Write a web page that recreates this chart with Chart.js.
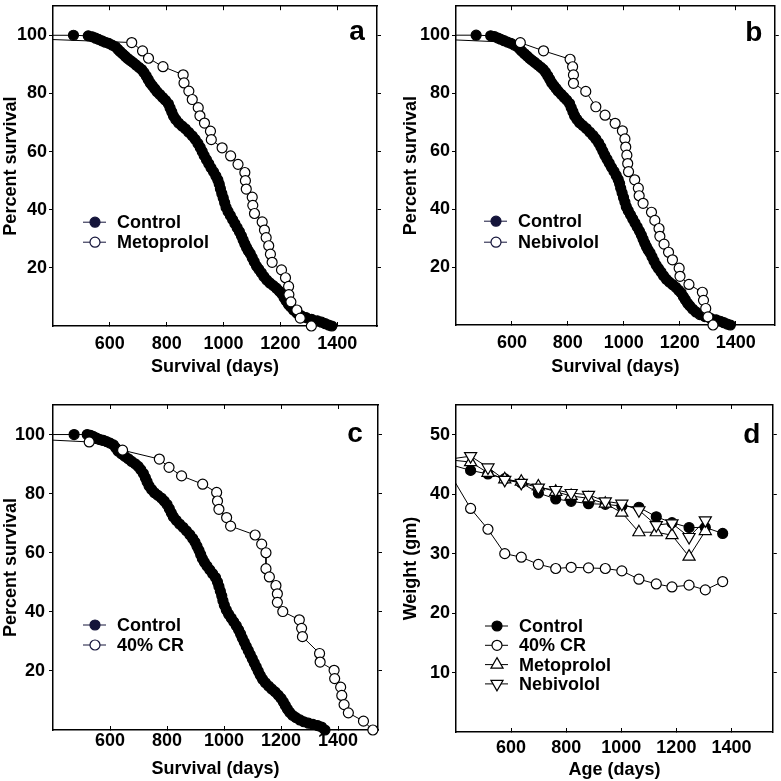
<!DOCTYPE html>
<html>
<head>
<meta charset="utf-8">
<script src="https://cdn.jsdelivr.net/npm/chart.js@4.4.1/dist/chart.umd.min.js"></script>
<style>
  html, body { margin: 0; padding: 0; background: #fff; }
  canvas { position: absolute; }
</style>
</head>
<body>
<canvas id="panelA" width="390" height="390" style="left:0;top:0"></canvas>
<canvas id="panelB" width="391" height="390" style="left:390px;top:0"></canvas>
<canvas id="panelC" width="390" height="391" style="left:0;top:390px"></canvas>
<canvas id="panelD" width="391" height="391" style="left:390px;top:390px"></canvas>
<script>
// ---- values ----
const dayTicks = [600, 800, 1000, 1200, 1400];
const survivalTicks = [20, 40, 60, 80, 100];
const weightTicks = [10, 20, 30, 40, 50];

// control cohort (panels a and b)
const controlDays = [0, 472, 524, 538, 550, 560, 572, 584, 596, 608, 620, 628, 636, 645, 654, 663, 672, 682, 692, 702,
  712, 720, 728, 735, 742, 750, 758, 766, 776, 786, 796, 806, 812, 818, 824, 832, 842, 854, 866, 878,
  890, 900, 910, 918, 925, 932, 940, 948, 956, 965, 973, 980, 985, 989, 994, 999, 1004, 1009, 1016, 1024,
  1032, 1040, 1048, 1056, 1063, 1069, 1075, 1081, 1087, 1094, 1101, 1108, 1116, 1124, 1133, 1142, 1152, 1163, 1175, 1186,
  1196, 1205, 1213, 1220, 1228, 1236, 1246, 1258, 1272, 1290, 1310, 1330, 1345, 1358, 1370, 1381];
const controlPct = [100, 100, 99.8, 99.5, 99.0, 98.6, 98.1, 97.6, 97.2, 96.6, 96.0, 95.2, 94.4, 93.6, 92.8, 92.0, 91.3, 90.6, 89.8, 89.0,
  88.2, 87.2, 86.0, 84.8, 83.6, 82.6, 81.6, 80.6, 79.6, 78.6, 77.6, 76.4, 75.0, 73.6, 72.2, 71.0, 69.8, 68.8, 67.8, 66.6,
  65.4, 64.2, 62.8, 61.4, 60.0, 58.6, 57.2, 55.8, 54.4, 53.0, 51.6, 50.2, 48.8, 47.2, 45.6, 44.0, 42.4, 40.8, 39.4, 38.0,
  36.6, 35.2, 33.8, 32.4, 31.0, 29.6, 28.2, 27.0, 25.9, 24.9, 23.5, 22.1, 20.6, 19.5, 18.3, 17.0, 15.8, 14.8, 13.9, 13.0,
  12.0, 11.1, 9.8, 8.7, 7.5, 6.6, 5.5, 4.5, 3.6, 2.9, 2.3, 1.8, 1.3, 0.8, 0.3, 0];

// control cohort as drawn in panel c
const controlDaysC = [0, 474, 520, 532, 542, 553, 565, 577, 588, 600, 612, 620, 628, 640, 652, 664, 676, 688, 699, 708,
  717, 724, 730, 737, 746, 756, 768, 780, 790, 800, 808, 815, 822, 832, 844, 856, 868, 880, 890, 898,
  905, 912, 918, 924, 931, 940, 950, 960, 970, 977, 982, 987, 992, 996, 1001, 1008, 1016, 1025, 1034, 1043,
  1051, 1058, 1064, 1071, 1078, 1085, 1092, 1099, 1106, 1113, 1120, 1127, 1135, 1145, 1156, 1167, 1179, 1190, 1200, 1208,
  1215, 1222, 1230, 1240, 1252, 1266, 1280, 1296, 1312, 1328, 1342, 1354];
const controlPctC = [100, 100, 100, 99.7, 99.3, 98.8, 98.3, 98.0, 97.6, 97.1, 96.5, 95.5, 94.4, 93.5, 92.6, 91.8, 90.9, 90.1, 89.2, 88.1,
  86.8, 85.4, 84.0, 82.6, 81.4, 80.3, 79.4, 78.5, 77.5, 76.3, 74.9, 73.5, 72.2, 71.0, 69.7, 68.6, 67.4, 66.1, 64.8, 63.6,
  62.2, 60.8, 59.4, 58.0, 56.8, 55.5, 54.2, 52.9, 51.6, 50.1, 48.6, 47.0, 45.4, 43.8, 42.2, 40.6, 39.2, 37.9, 36.6, 35.3,
  33.9, 32.5, 31.1, 29.7, 28.3, 26.9, 25.5, 24.1, 22.7, 21.3, 19.9, 18.5, 17.2, 16.0, 14.9, 13.9, 12.9, 11.8, 10.7, 9.5,
  8.3, 7.1, 6.0, 5.0, 4.2, 3.4, 2.8, 2.3, 1.9, 1.5, 1.0, 0];

const metoDays = [0, 677, 715, 736, 787, 858, 861, 878, 890, 911, 917, 933, 954, 957, 995, 1025, 1051, 1075, 1077, 1080,
  1101, 1103, 1109, 1136, 1144, 1150, 1159, 1165, 1171, 1204, 1218, 1229, 1230, 1237, 1258, 1270, 1309];
const metoPct = [100, 97.5, 94.6, 92.1, 89.2, 86.4, 83.6, 80.8, 77.9, 75.1, 72.3, 69.8, 67.0, 64.1, 61.3, 58.5, 55.6, 52.8, 50.0, 47.1,
  44.3, 41.5, 38.7, 35.8, 33.0, 30.4, 27.6, 24.7, 21.9, 19.3, 16.6, 13.6, 10.8, 8.3, 5.5, 2.7, 0];

const nebiDays = [0, 630, 713, 808, 817, 820, 820, 864, 900, 933, 969, 995, 1004, 1007, 1011, 1014, 1017, 1039, 1052, 1055,
  1069, 1099, 1111, 1126, 1129, 1144, 1160, 1174, 1198, 1201, 1233, 1281, 1285, 1293, 1301, 1319];
const nebiPct = [100, 97.4, 94.6, 91.7, 89.1, 86.3, 83.4, 80.6, 75.3, 72.4, 69.6, 67.0, 64.2, 61.4, 58.6, 55.7, 52.9, 50.1, 47.2, 44.6,
  42.0, 38.9, 36.1, 33.3, 30.6, 27.9, 25.1, 22.5, 19.6, 16.8, 14.0, 11.3, 8.5, 5.7, 2.8, 0];

const crDays = [0, 527, 644, 773, 807, 851, 925, 974, 977, 982, 1009, 1023, 1109, 1132, 1147, 1147, 1159, 1182, 1187, 1187,
  1206, 1264, 1272, 1275, 1335, 1337, 1386, 1388, 1409, 1413, 1421, 1436, 1489, 1522];
const crPct = [100, 97.5, 94.7, 91.7, 88.9, 86.0, 83.2, 80.4, 77.5, 74.7, 71.9, 69.0, 66.0, 62.9, 60.0, 54.6, 51.8, 48.9, 46.1, 43.2,
  40.1, 37.3, 34.4, 31.6, 25.9, 23.0, 20.2, 17.4, 14.5, 11.7, 8.6, 5.8, 3.0, 0];

// body weight (panel d)
const ageDays = [393, 453, 516, 577, 637, 699, 762, 818, 881, 942, 1002, 1064, 1127, 1184, 1246, 1305, 1368];
const wtControl = [44.8, 44.0, 43.4, 42.6, 41.9, 40.2, 39.2, 38.8, 38.4, 38.3, 38.0, 37.8, 36.2, 35.2, 34.4, 34.4, 33.4];
const wtCR = [42.3, 37.6, 34.1, 30.0, 29.4, 28.2, 27.5, 27.7, 27.6, 27.5, 27.1, 25.7, 24.9, 24.4, 24.7, 23.9, 25.3];
const wtMeto = [45.7, 45.4, 43.6, 42.5, 42.1, 41.3, 40.4, 39.7, 39.3, 38.4, 36.9, 33.6, 33.6, 33.1, 29.5, 33.8];
const wtNebi = [46.0, 46.4, 44.5, 42.4, 41.9, 41.1, 40.7, 40.2, 39.9, 38.8, 38.4, 37.3, 34.8, 35.1, 32.8, 35.6];

// ---- chart setup ----
const FONT = '"Liberation Sans", Arial, Helvetica, sans-serif';
Chart.defaults.font.family = FONT;
Chart.defaults.font.size = 18;
Chart.defaults.font.weight = 'bold';
Chart.defaults.color = '#000';
Chart.defaults.animation = false;

const FILLED = { style: 'circle', r: 5, fill: '#000', rot: 0 };
const OPEN = { style: 'circle', r: 5, fill: '#fff', rot: 0 };
const UP = { style: 'triangle', r: 7, fill: '#fff', rot: 0 };
const DOWN = { style: 'triangle', r: 7, fill: '#fff', rot: 180 };

function series(label, xs, ys, mark, order, xMin) {
  return {
    label,
    data: ys.map((y, i) => ({ x: xs[i], y })),
    borderColor: '#000',
    borderWidth: 1,
    pointStyle: mark.style,
    pointRotation: mark.rot,
    pointBackgroundColor: mark.fill,
    pointBorderColor: '#000',
    pointBorderWidth: 1.2,
    pointRadius: ys.map((y, i) => (xs[i] < xMin ? 0 : mark.r)),
    legendRadius: mark.r,
    tension: 0,
    clip: { left: 0, top: 10, right: 10, bottom: 10 },
    order
  };
}

// letter + legend drawn inside the plot box
const panelDecor = {
  id: 'panelDecor',
  afterDatasetsDraw(chart, args, o) {
    const { ctx, chartArea } = chart;
    ctx.save();
    ctx.fillStyle = '#000';
    ctx.font = 'bold 28px ' + FONT;
    ctx.textAlign = 'center';
    ctx.textBaseline = 'alphabetic';
    ctx.fillText(o.letter, chartArea.right - o.letterDx, chartArea.top + o.letterDy);

    ctx.font = 'bold 18px ' + FONT;
    ctx.textAlign = 'left';
    ctx.textBaseline = 'middle';
    chart.data.datasets.forEach((ds, i) => {
      const x = chartArea.left + o.legendX;
      const y = chartArea.top + o.legendY + i * o.legendGap;
      ctx.strokeStyle = o.ink;
      ctx.lineWidth = 1;
      ctx.beginPath();
      ctx.moveTo(x - 12, y);
      ctx.lineTo(x + 11, y);
      ctx.stroke();
      ctx.fillStyle = ds.pointBackgroundColor === '#000' ? o.ink : '#fff';
      ctx.lineWidth = 1.2;
      Chart.helpers.drawPoint(ctx, {
        pointStyle: ds.pointStyle, radius: ds.legendRadius,
        rotation: ds.pointRotation, borderWidth: 1.2
      }, x, y);
      ctx.fillStyle = '#000';
      ctx.fillText(ds.label, x + 22, y + 1);
    });
    ctx.restore();
  }
};

function zeroPad(s) {
  s.paddingLeft = 0; s.paddingRight = 0; s.paddingTop = 0; s.paddingBottom = 0;
}

function buildScales(o) {
  const fmt = v => String(v);
  const ink = { color: '#000', width: 1.5 };
  return {
    x: {
      type: 'linear', position: 'bottom', min: o.xMin, max: o.xMax,
      afterBuildTicks: s => { s.ticks = o.xTicks.map(value => ({ value })); },
      afterFit: s => { s.height = o.bottom; zeroPad(s); },
      ticks: { padding: o.xPad, maxRotation: 0, autoSkip: false, callback: fmt },
      grid: { drawOnChartArea: false, tickLength: -4, color: '#000' },
      border: ink,
      title: { display: true, text: o.xTitle, padding: { top: 0, bottom: o.xTitlePad } }
    },
    xTop: {
      type: 'linear', position: 'top', min: o.xMin, max: o.xMax,
      afterBuildTicks: s => { s.ticks = o.xTicks.map(value => ({ value })); },
      afterFit: s => { s.height = o.top; zeroPad(s); },
      ticks: { display: false },
      grid: { drawOnChartArea: false, tickLength: -4, color: '#000' },
      border: ink
    },
    y: {
      type: 'linear', position: 'left', min: o.yMin, max: o.yMax,
      afterBuildTicks: s => { s.ticks = o.yTicks.map(value => ({ value })); },
      afterFit: s => { s.width = o.left; zeroPad(s); },
      ticks: { padding: o.yPad, callback: fmt },
      grid: { drawOnChartArea: false, tickLength: 4, color: '#000' },
      border: ink,
      title: { display: true, text: o.yTitle, padding: { top: o.yTitlePad, bottom: 0 } }
    },
    yRight: {
      type: 'linear', position: 'right', min: o.yMin, max: o.yMax,
      afterBuildTicks: s => { s.ticks = o.yTicks.map(value => ({ value })); },
      afterFit: s => { s.width = o.right; zeroPad(s); },
      ticks: { display: false },
      grid: { drawOnChartArea: false, tickLength: 4, color: '#000' },
      border: ink
    }
  };
}

function panel(id, datasets, o) {
  return new Chart(document.getElementById(id), {
    type: 'line',
    data: { datasets },
    options: {
      responsive: false,
      animation: false,
      layout: { padding: 0 },
      scales: buildScales(o),
      plugins: {
        legend: { display: false },
        tooltip: { enabled: false },
        panelDecor: o
      }
    },
    plugins: [panelDecor]
  });
}

const survBase = {
  xMin: 400, xMax: 1540, yMin: 0, yMax: 110,
  xTicks: dayTicks, yTicks: survivalTicks,
  xTitle: 'Survival (days)', yTitle: 'Percent survival', ink: '#14143a'
};

panel('panelA', [
  series('Control', controlDays, controlPct, FILLED, 1, 400),
  series('Metoprolol', metoDays, metoPct, OPEN, 0, 400)
], Object.assign({}, survBase, {
  left: 53, right: 13, top: 3, bottom: 64, xPad: 11, yPad: 2, xTitlePad: 12, yTitlePad: 0,
  letter: 'a', letterDx: 20, letterDy: 34, legendX: 42, legendY: 216, legendGap: 20
}));

panel('panelB', [
  series('Control', controlDays, controlPct, FILLED, 1, 400),
  series('Nebivolol', nebiDays, nebiPct, OPEN, 0, 400)
], Object.assign({}, survBase, {
  left: 66, right: 4, top: 3, bottom: 65, xPad: 11, yPad: 2, xTitlePad: 12, yTitlePad: 10,
  letter: 'b', letterDx: 21, letterDy: 35, legendX: 40, legendY: 215, legendGap: 21
}));

panel('panelC', [
  series('Control', controlDaysC, controlPctC, FILLED, 1, 400),
  series('40% CR', crDays, crPct, OPEN, 0, 400)
], Object.assign({}, survBase, {
  left: 53, right: 12, top: 15, bottom: 51, xPad: 4, yPad: 4, xTitlePad: 1, yTitlePad: 0,
  letter: 'c', letterDx: 23, letterDy: 37, legendX: 42, legendY: 220, legendGap: 20
}));

panel('panelD', [
  series('Control', ageDays, wtControl, FILLED, 3, 400),
  series('40% CR', ageDays, wtCR, OPEN, 2, 400),
  series('Metoprolol', ageDays, wtMeto, UP, 1, 400),
  series('Nebivolol', ageDays, wtNebi, DOWN, 0, 400)
], {
  xMin: 400, xMax: 1550, yMin: 0, yMax: 55,
  xTicks: dayTicks, yTicks: weightTicks,
  xTitle: 'Age (days)', yTitle: 'Weight (gm)', ink: '#000',
  left: 66, right: 2, top: 15, bottom: 49, xPad: 9, yPad: 2, xTitlePad: 0, yTitlePad: 10,
  letter: 'd', letterDx: 21, letterDy: 38, legendX: 41, legendY: 221, legendGap: 19.3
});
</script>
</body>
</html>
